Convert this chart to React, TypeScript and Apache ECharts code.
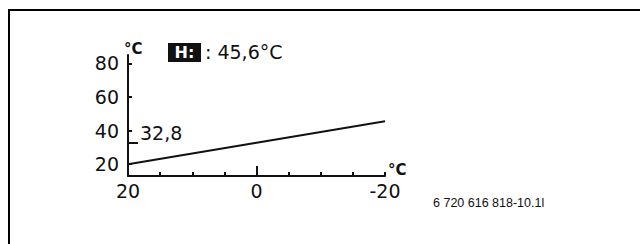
import React, { useEffect, useRef } from "react";
import * as echarts from "echarts";

// Outdoor temperature (°C) and the matching flow temperature (°C) of the heating curve
const outdoorTemps = [20, 0, -20];
const flowTemps = [20, 32.8, 45.6];
const yTickValues = [20, 40, 60, 80];
const xTickLabelValues = [20, 0, -20];
const markerValues = [32.8];
const markerLabel = "32,8";
const headerValue = ": 45,6°C";
const headerKey = "H:";
const figureId = "6 720 616 818-10.1l";

const FONT = "DejaVu Sans";
const INK = "#111";

export default function App() {
  const ref = useRef<HTMLDivElement>(null);
  useEffect(() => {
    if (!ref.current) return;
    const chart = echarts.init(ref.current, null, { renderer: "svg" });
    const yCommon = { type: "value", min: 13, max: 85, splitLine: { show: false } };
    const xCommon = { type: "value", min: -20, max: 20, inverse: true, interval: 5, splitLine: { show: false } };
    chart.setOption({
      animation: false,
      backgroundColor: "#fff",
      grid: { left: 128, top: 55, width: 257, height: 121, containLabel: false },
      xAxis: [
        {
          ...xCommon,
          position: "bottom",
          axisLine: { show: true, onZero: false, lineStyle: { color: INK, width: 2 } },
          axisTick: { show: true, inside: true, length: 4, lineStyle: { color: INK, width: 2 } },
          axisLabel: {
            show: true,
            customValues: xTickLabelValues,
            margin: 5,
            color: INK,
            fontFamily: FONT,
            fontSize: 19,
            formatter: (v: number) => String(v),
          },
        },
        {
          ...xCommon,
          position: "bottom",
          axisLine: { show: false, onZero: false },
          axisTick: { show: true, inside: true, length: 10, customValues: [0], lineStyle: { color: INK, width: 2 } },
          axisLabel: { show: false },
        },
      ],
      yAxis: [
        {
          ...yCommon,
          position: "left",
          axisLine: { show: true, onZero: false, lineStyle: { color: INK, width: 2 } },
          axisTick: { show: true, inside: true, length: 4, customValues: yTickValues, lineStyle: { color: INK, width: 2 } },
          axisLabel: {
            show: true,
            customValues: yTickValues,
            margin: 9,
            color: INK,
            fontFamily: FONT,
            fontSize: 19,
          },
        },
        {
          ...yCommon,
          position: "left",
          axisLine: { show: false, onZero: false },
          axisTick: { show: true, inside: true, length: 10, customValues: markerValues, lineStyle: { color: INK, width: 2 } },
          axisLabel: { show: false },
        },
      ],
      series: [
        {
          type: "line",
          xAxisIndex: 0,
          yAxisIndex: 0,
          data: outdoorTemps.map((x, i) => [x, flowTemps[i]]),
          symbol: "none",
          lineStyle: { color: INK, width: 2 },
        },
      ],
      graphic: [
        {
          type: "polyline",
          shape: { points: [[9, 244], [9, 10], [640, 10]] },
          style: { stroke: "#000", lineWidth: 2, fill: null },
        },
        {
          type: "text",
          x: 124,
          y: 41,
          style: { text: "°C", fontFamily: FONT, fontSize: 15, fontWeight: "bold", fill: INK },
        },
        {
          type: "text",
          x: 388,
          y: 162,
          style: { text: "°C", fontFamily: FONT, fontSize: 15, fontWeight: "bold", fill: INK },
        },
        {
          type: "rect",
          shape: { x: 168, y: 43, width: 33, height: 19 },
          style: { fill: "#111" },
        },
        {
          type: "text",
          x: 184.5,
          y: 52.5,
          style: {
            text: headerKey,
            fontFamily: FONT,
            fontSize: 16,
            fontWeight: "bold",
            fill: "#fff",
            align: "center",
            verticalAlign: "middle",
          },
        },
        {
          type: "text",
          x: 205,
          y: 52,
          style: { text: headerValue, fontFamily: FONT, fontSize: 19, fill: INK, verticalAlign: "middle" },
        },
        {
          type: "text",
          x: 140,
          y: 133,
          style: { text: markerLabel, fontFamily: FONT, fontSize: 19, fill: INK, verticalAlign: "middle" },
        },
        {
          type: "text",
          x: 433,
          y: 203,
          style: {
            text: figureId,
            fontFamily: "Liberation Sans",
            fontSize: 12.5,
            fill: "#111",
            verticalAlign: "middle",
          },
        },
      ],
    });
    return () => chart.dispose();
  }, []);
  return (
    <div
      ref={ref}
      style={{ position: "fixed", left: 0, top: 0, width: 641, height: 244, background: "#fff" }}
    />
  );
}
